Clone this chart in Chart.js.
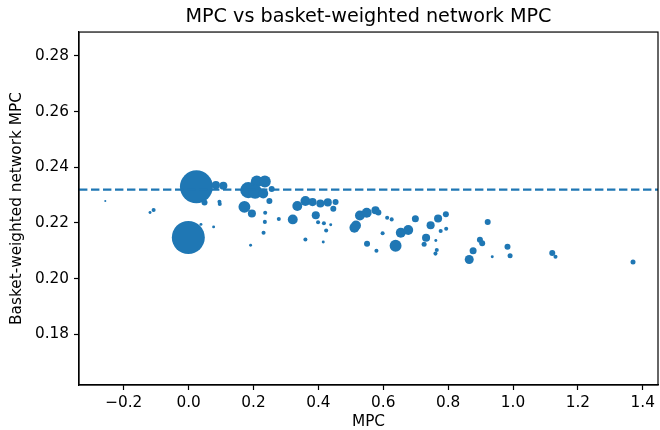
<!DOCTYPE html>
<html>
<head>
<meta charset="utf-8">
<script src="https://cdn.jsdelivr.net/npm/chart.js@4"></script>
<style>
  html, body { margin: 0; padding: 0; background: #fff; }
  #wrap { width: 660px; height: 430px; position: relative; }
</style>
</head>
<body>
<div id="wrap"><canvas id="c" width="660" height="430"></canvas></div>
<script>
// ---- data ----
const mpcValues = [-0.257, -0.119, -0.108, 0.024, -0.001, 0.038, 0.077, 0.084, 0.107, 0.049,
  0.095, 0.096, 0.210, 0.235, 0.184, 0.205, 0.230, 0.256, 0.249, 0.172,
  0.195, 0.236, 0.235, 0.231, 0.191, 0.278, 0.321, 0.335, 0.360, 0.382,
  0.406, 0.429, 0.453, 0.446, 0.392, 0.399, 0.417, 0.438, 0.424, 0.360,
  0.415, 0.511, 0.516, 0.528, 0.549, 0.576, 0.585, 0.550, 0.579, 0.612,
  0.626, 0.598, 0.654, 0.677, 0.638, 0.699, 0.746, 0.769, 0.793, 0.777,
  0.794, 0.732, 0.726, 0.762, 0.765, 0.761, 0.865, 0.877, 0.898, 0.905,
  0.922, 0.936, 0.983, 0.991, 1.121, 1.131, 1.370];
const networkMpc = [0.2279, 0.2238, 0.2247, 0.2330, 0.2148, 0.2195, 0.2186, 0.2336, 0.2334, 0.2274,
  0.2276, 0.2268, 0.2349, 0.2349, 0.2318, 0.2312, 0.2306, 0.2322, 0.2279, 0.2258,
  0.2234, 0.2237, 0.2204, 0.2165, 0.2120, 0.2214, 0.2213, 0.2261, 0.2279, 0.2275,
  0.2270, 0.2274, 0.2275, 0.2251, 0.2228, 0.2203, 0.2199, 0.2194, 0.2173, 0.2141,
  0.2132, 0.2183, 0.2191, 0.2227, 0.2237, 0.2246, 0.2238, 0.2125, 0.2100, 0.2219,
  0.2213, 0.2163, 0.2165, 0.2175, 0.2118, 0.2215, 0.2192, 0.2216, 0.2231, 0.2171,
  0.2179, 0.2147, 0.2124, 0.2137, 0.2103, 0.2090, 0.2069, 0.2100, 0.2140, 0.2127,
  0.2204, 0.2079, 0.2115, 0.2082, 0.2092, 0.2079, 0.2060];
const basketWeights = [0.4, 0.8, 1.5, 100, 100, 0.8, 0.8, 6, 6, 3.3,
  1.5, 1.5, 13, 13, 24, 18, 9, 3.3, 3.3, 13,
  6, 1.5, 1.5, 1.5, 0.8, 1.5, 9, 9, 9, 6,
  6, 6, 3.3, 3.3, 6, 1.5, 1.5, 0.8, 1.5, 1.5,
  0.8, 9, 9, 9, 9, 6, 3.3, 3.3, 1.5, 1.5,
  1.5, 1.5, 9, 9, 13, 4.5, 6, 6, 3.3, 1.5,
  1.5, 6, 2.3, 0.8, 1.5, 1.5, 7.4, 4.5, 3.3, 3.3,
  3.3, 0.8, 3.3, 2.3, 3.3, 1.5, 2.3];
const weightedMean = 0.232;
const xTicks = [-0.2, 0.0, 0.2, 0.4, 0.6, 0.8, 1.0, 1.2, 1.4];
const yTicks = [0.18, 0.20, 0.22, 0.24, 0.26, 0.28];
const titleText = 'MPC vs basket-weighted network MPC';
const xTitle = 'MPC';
const yTitle = 'Basket-weighted network MPC';

// ---- styling ----
const BLUE = '#1f77b4';
const FONT = "'DejaVu Sans', sans-serif";
const points = mpcValues.map((x, i) => ({ x: x, y: networkMpc[i], w: basketWeights[i] }));

const frameAndLine = {
  id: 'frameAndLine',
  afterDatasetsDraw(chart) {
    const { ctx, chartArea: a, scales } = chart;
    const y = scales.y.getPixelForValue(weightedMean);
    ctx.save();
    ctx.beginPath();
    ctx.rect(a.left, a.top, a.right - a.left, a.bottom - a.top);
    ctx.clip();
    ctx.strokeStyle = BLUE;
    ctx.lineWidth = 2.2;
    ctx.setLineDash([8.4, 3.6]);
    ctx.beginPath();
    ctx.moveTo(a.left, y);
    ctx.lineTo(a.right, y);
    ctx.stroke();
    ctx.restore();
    ctx.save();
    ctx.strokeStyle = '#000';
    ctx.lineWidth = 1.2;
    ctx.strokeRect(a.left, a.top, a.right - a.left, a.bottom - a.top);
    ctx.restore();
  }
};

new Chart(document.getElementById('c'), {
  type: 'bubble',
  data: {
    datasets: [{
      data: points,
      backgroundColor: BLUE,
      borderColor: BLUE,
      borderWidth: 0,
      radius: (ctx) => 1.65 * Math.sqrt(ctx.raw.w)
    }]
  },
  options: {
    responsive: false,
    animation: false,
    events: [],
    layout: { autoPadding: false, padding: { left: 0, right: 2, top: 0, bottom: 0 } },
    plugins: {
      legend: { display: false },
      tooltip: { enabled: false },
      title: {
        display: true,
        text: titleText,
        fullSize: false,
        color: '#000',
        font: { family: FONT, size: 19.2, weight: 'normal', lineHeight: 1.2 },
        padding: { top: 5.5, bottom: 3.5 }
      }
    },
    scales: {
      x: {
        type: 'linear',
        min: -0.338,
        max: 1.447,
        afterFit: (s) => { s.height = 45; s.paddingLeft = 0; s.paddingRight = 0; },
        afterBuildTicks: (s) => { s.ticks = xTicks.map(v => ({ value: v })); },
        ticks: {
          color: '#000',
          padding: 4,
          maxRotation: 0,
          font: { family: FONT, size: 15.3 },
          callback: (v) => (v < 0 ? '\u2212' + Math.abs(v).toFixed(1) : v.toFixed(1))
        },
        grid: { drawOnChartArea: false, drawTicks: true, tickLength: 5, tickWidth: 1.2, tickColor: '#000' },
        border: { display: true, color: '#000', width: 1.2 },
        title: {
          display: true,
          text: xTitle,
          color: '#000',
          font: { family: FONT, size: 15.3, lineHeight: 1.2 },
          padding: { top: 0, bottom: -1 }
        }
      },
      y: {
        type: 'linear',
        min: 0.1618,
        max: 0.2886,
        afterFit: (s) => { s.width = 79; s.paddingTop = 0; s.paddingBottom = 0; },
        afterBuildTicks: (s) => { s.ticks = yTicks.map(v => ({ value: v })); },
        ticks: {
          color: '#000',
          padding: 5,
          font: { family: FONT, size: 15.3 },
          callback: (v) => v.toFixed(2)
        },
        grid: { drawOnChartArea: false, drawTicks: true, tickLength: 5, tickWidth: 1.2, tickColor: '#000' },
        border: { display: true, color: '#000', width: 1.2 },
        title: {
          display: true,
          text: yTitle,
          color: '#000',
          font: { family: FONT, size: 15.3, lineHeight: 1.2 },
          padding: { top: 8, bottom: 0 }
        }
      }
    }
  },
  plugins: [frameAndLine]
});
</script>
</body>
</html>
